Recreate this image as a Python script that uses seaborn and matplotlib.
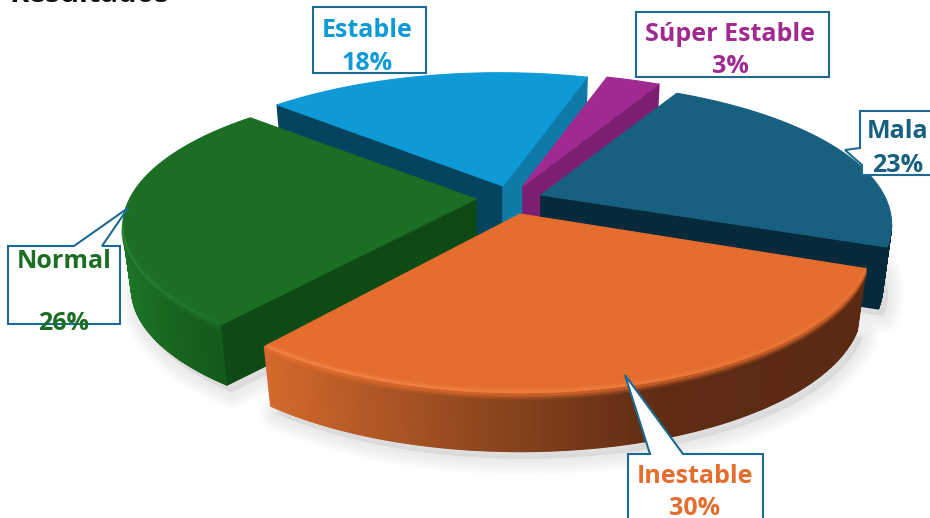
import numpy as np
import matplotlib
matplotlib.use("Agg")
import matplotlib.pyplot as plt
from matplotlib.collections import LineCollection, PolyCollection
from matplotlib.colors import to_rgb
from matplotlib.patches import Polygon
import seaborn as sns

sns.set_theme(style="white")
plt.rcParams["font.family"] = ["Open Sans", "DejaVu Sans"]

# Shares in clockwise order, starting from the top right of the pie
categories = ["Mala", "Inestable", "Normal", "Estable", "Súper Estable"]
shares = [23, 30, 26, 18, 3]

top_colors = ["#17607F", "#E56D2E", "#1B6E24", "#0E9AD6", "#A02A90"]
rim_ramps = [["#06293B", "#06293B"],
             ["#D4692C", "#93491F", "#5E2B13", "#5A2A13"],
             ["#1D7526", "#17651E", "#145A1B"],
             ["#07506E", "#07506E"],
             ["#7C1F70", "#7C1F70"]]
start_wall = ["#06293B", "#5E2B13", "#0E4A15", "#06435E", "#7C1F70"]
end_wall = ["#06293B", "#5E2B13", "#0E4A15", "#0F79A8", "#7C1F70"]
bevels = [None, "#FA9258", "#2F8F3A", None, None]

# Tilted disc seen in perspective, as a projective map of the unit circle
START_DEG = 59.66
MAP_X = (344.33, -15.71)
MAP_Y = (-5.35, -136.04)
MAP_W = (0.013, 0.2016)
DEPTH = 63
BASE_SHRINK = 0.975

# Apex of every slice once pulled out of the pie, and its vertical stretch
apexes = [(541, 195), (520, 214), (476, 199), (503, 186), (523, 186)]
y_stretch = [1.0, 1.05, 1.0, 1.0, 1.0]
draw_order = [3, 4, 0, 2, 1]


def disc(theta_deg):
    t = np.deg2rad(theta_deg)
    u, v = np.cos(t), np.sin(t)
    w = 1 + MAP_W[0] * u + MAP_W[1] * v
    return (MAP_X[0] * u + MAP_X[1] * v) / w, (MAP_Y[0] * u + MAP_Y[1] * v) / w


fig = plt.figure(figsize=(9.3, 5.18), dpi=100)
ax = fig.add_axes([0, 0, 1, 1])
ax.set_xlim(0, 930)
ax.set_ylim(518, 0)
ax.set_axis_off()

edges = np.cumsum([0] + shares) / sum(shares) * 360
slices = []
for i in range(len(shares)):
    th = np.linspace(START_DEG - edges[i], START_DEG - edges[i + 1], 200)
    dx, dy = disc(th)
    dy = dy * y_stretch[i]
    ax0, ay0 = apexes[i]
    top = np.column_stack([ax0 + dx, ay0 + dy])
    base = np.column_stack([ax0 + BASE_SHRINK * dx, ay0 + BASE_SHRINK * dy + DEPTH])
    apex_top = np.array([ax0, ay0], float)
    apex_base = apex_top + (0, DEPTH)
    slices.append((top, base, apex_top, apex_base))

# Soft drop shadow underneath the whole pie
for i in draw_order:
    top, base, apex_top, apex_base = slices[i]
    outline = np.vstack([apex_base, base]) + (5, 7)
    for lw in (24, 21, 18, 15, 12, 9, 6, 3):
        ax.add_patch(Polygon(outline, closed=True, fc="#8C8C8C", ec="#8C8C8C", lw=lw,
                             alpha=0.018, joinstyle="round", zorder=1))

z = 2
for i in draw_order:
    top, base, apex_top, apex_base = slices[i]

    # Radial cut faces that turn towards the viewer
    if top[0, 0] < apex_top[0]:
        ax.add_patch(Polygon([apex_top, top[0], base[0], apex_base], closed=True,
                             fc=start_wall[i], ec=start_wall[i], lw=1.2,
                             joinstyle="round", zorder=z))
    if apex_top[0] < top[-1, 0]:
        ax.add_patch(Polygon([apex_top, top[-1], base[-1], apex_base], closed=True,
                             fc=end_wall[i], ec=end_wall[i], lw=1.2,
                             joinstyle="round", zorder=z))
    z += 1

    # Curved outer wall, shaded from left to right
    ramp = sns.blend_palette(rim_ramps[i], 256)
    quads, colors = [], []
    for k in range(len(top) - 1):
        if top[k + 1, 0] < top[k, 0]:
            quads.append([top[k], top[k + 1], base[k + 1], base[k]])
            pos = np.clip((top[k, 0] - 263) / (868 - 263), 0, 1)
            if i == 2:
                pos = np.clip((top[k, 0] - 122) / (220 - 122), 0, 1)
            colors.append(ramp[int(pos * 255)])
    if quads:
        ax.add_collection(PolyCollection(quads, facecolors=colors, edgecolors=colors,
                                         linewidths=0.8, zorder=z))
    z += 1

    # Flat upper face
    ax.add_patch(Polygon(np.vstack([apex_top, top]), closed=True, fc=top_colors[i],
                         ec=top_colors[i], lw=0.8, joinstyle="round", zorder=z))
    z += 1

    # Rounded front edge: the face colour melts into the wall, with a highlight
    if bevels[i]:
        front = np.r_[top[1:, 0] < top[:-1, 0], False]
        xs, ys = top[front, 0], top[front, 1]
        segs = lambda off: np.stack([np.column_stack([xs[:-1], ys[:-1] + off]),
                                     np.column_stack([xs[1:], ys[1:] + off])], axis=1)
        for off, alpha in ((1.5, 0.7), (3, 0.45), (4.5, 0.25), (6, 0.1)):
            rgba = [(*to_rgb(top_colors[i]), alpha)] * (len(xs) - 1)
            ax.add_collection(LineCollection(segs(off), colors=rgba, linewidths=1.6, zorder=z))
        fade = np.clip(1 - (xs[:-1] - xs.min()) / (xs.max() - xs.min()), 0, 1)
        for off, alpha in ((-1, 0.55), (-2.5, 0.3), (-4, 0.14)):
            rgba = [(*to_rgb(bevels[i]), alpha * (0.25 + 0.75 * f)) for f in fade]
            ax.add_collection(LineCollection(segs(off), colors=rgba, linewidths=1.6, zorder=z))
        z += 1

# Callout outlines around the labels
EDGE = "#1D6A90"
callouts = {
    "Estable": [(313, 7), (426, 7), (426, 73), (313, 73)],
    "Súper Estable": [(636, 12), (829, 12), (829, 77), (636, 77)],
    "Mala": [(860, 111), (932, 111), (932, 175), (862, 175), (862, 165), (845, 150), (860, 148)],
    "Normal": [(8, 246), (74, 246), (128, 208), (102, 246), (120, 246), (120, 324), (8, 324)],
    "Inestable": [(628, 454), (650, 454), (625, 375), (683, 454), (763, 454), (763, 522), (628, 522)],
}
# Text anchors: horizontal centre and the baselines of the two lines
anchors = {
    "Estable": (367, 37, 70),
    "Súper Estable": (730, 41, 73),
    "Mala": (898, 138, 172),
    "Normal": (64, 268, 330),
    "Inestable": (695, 483, 515),
}
for name, share, color in zip(categories, shares, top_colors):
    box = Polygon(callouts[name], closed=True, fc="white", ec=EDGE, lw=1.5,
                  joinstyle="miter", zorder=50)
    ax.add_patch(box)
    cx, y1, y2 = anchors[name]
    for line, y in ((name, y1), (f"{share}%", y2)):
        t = ax.text(cx, y, line, ha="center", va="baseline", color=color,
                    fontsize=18, fontweight="bold", zorder=51)
        t.set_clip_path(box)

# Heading, running off the top of the canvas
ax.text(9, 2, "Resultados", ha="left", va="baseline", color="#111111",
        fontsize=21, fontweight="bold", zorder=51)

fig.savefig("out.png", dpi=100)
